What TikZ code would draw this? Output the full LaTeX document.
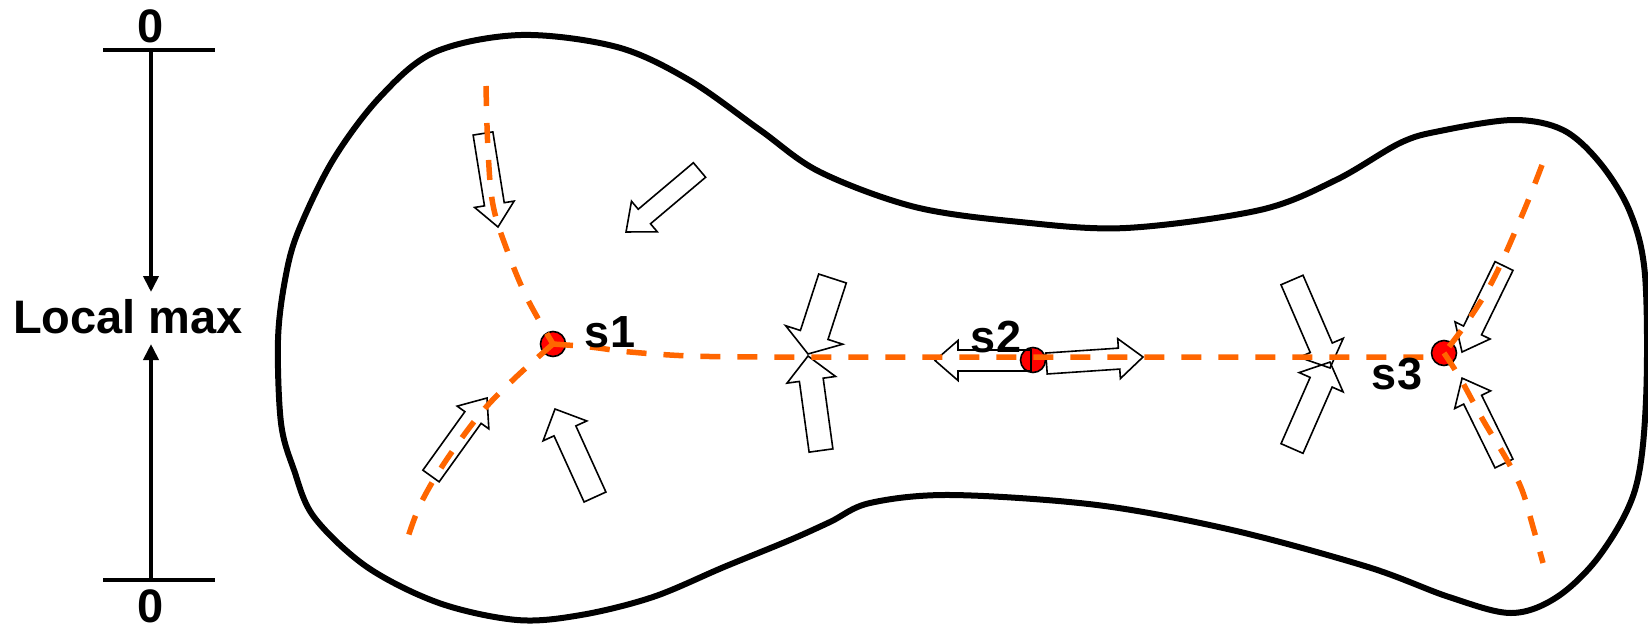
\documentclass[tikz,border=0pt]{standalone}
\usepackage{fontspec}
\setmainfont{Liberation Sans}
\usetikzlibrary{arrows.meta}
\definecolor{ridge}{HTML}{FF6600}
\definecolor{peak}{HTML}{FF0000}
% block arrow: tail (#1,#2), tip (#3,#4), shaft width #5, head width #6, head length #7
\newcommand\blockarrow[7]{%
  \pgfmathsetmacro\baAng{atan2(-(#4-#2),#3-#1)}%
  \pgfmathsetmacro\baLen{veclen(#3-#1,#4-#2)}%
  \begin{scope}[shift={(#1,#2)},rotate=\baAng]
    \draw[flowarrow] (0,-#5/2) -- (\baLen-#7,-#5/2) -- (\baLen-#7,-#6/2) -- (\baLen,0)
      -- (\baLen-#7,#6/2) -- (\baLen-#7,#5/2) -- (0,#5/2) -- cycle;
  \end{scope}}
\begin{document}
\begin{tikzpicture}[x=1pt,y=-1pt,
  outline/.style={line width=6pt,line join=round},
  ridgeline/.style={ridge,line width=5.5pt,dash pattern=on 20pt off 17pt},
  flowarrow/.style={draw=black,line width=1.6pt,line join=miter},
  peakdot/.style={circle,draw=black,line width=1.6pt,fill=peak,minimum size=25pt,inner sep=0pt},
  scalebar/.style={line width=3.8pt},
  scalearrow/.style={line width=3.8pt,-{Triangle[length=16pt,width=15pt]}},
  bigtext/.style={font=\fontsize{47}{50}\selectfont\bfseries,inner sep=0pt,anchor=base},
  stext/.style={font=\fontsize{45}{48}\selectfont\bfseries,inner sep=0pt,anchor=base}]
\useasboundingbox (0,0) rectangle (1648,629);

% scale on the left
\coordinate (topleft) at (103,50);
\coordinate (topright) at (215,50);
\coordinate (topmid) at (151,50);
\coordinate (botleft) at (103,580);
\coordinate (botright) at (215,580);
\coordinate (botmid) at (151,580);
\coordinate (lmtop) at (151,292);
\coordinate (lmbot) at (151,344);
\draw[scalebar] (topleft) -- (topright);
\draw[scalebar] (botleft) -- (botright);
\draw[scalearrow] (topmid) -- (lmtop);
\draw[scalearrow] (botmid) -- (lmbot);
\node[bigtext] (zerotop) at (151,42) {0};
\node[bigtext] (zerobot) at (151,622) {0};
\node[bigtext] (localmax) at (128,333) {Local max};

% region boundary
\draw[outline] plot[smooth cycle,tension=0.55] coordinates {
  (521,35) (617,47) (689,80) (760,130) (820,172) (915,207) (1020,222) (1126,228)
  (1260,210) (1336,180) (1400,143) (1440,131) (1513,120) (1563,130) (1600,163)
  (1630,212) (1645,275) (1646,400) (1635,490) (1600,555) (1557,597) (1511,613)
  (1449,597) (1368,567) (1232,530) (1097,505) (951,495) (870,503) (830,522)
  (790,540) (724,567) (653,597) (581,615) (517,620) (439,603) (367,567) (314,517)
  (294,470) (281,423) (278,340) (285,280) (298,232) (333,160) (380,97) (435,52)};

% critical points
\node[peakdot] (s1) at (553,344) {};
\node[peakdot] (s2) at (1033,360) {};
\node[peakdot] (s3) at (1444,353) {};

% gradient arrows
\blockarrow{483}{133.5}{498}{227}{20}{40}{23}
\blockarrow{699.5}{170}{626}{232}{19}{40}{24}
\blockarrow{431}{476}{487}{398}{20}{39}{24}
\blockarrow{595}{497}{555}{409}{24}{48}{24}
\blockarrow{832.5}{278.5}{808}{354}{29}{60}{20}
\blockarrow{821}{450.5}{808}{356}{24}{49}{24}
\blockarrow{1031}{360.5}{935}{360.5}{21}{40}{23}
\blockarrow{1046.5}{363.5}{1143}{357}{21}{40}{24}
\blockarrow{1292}{280}{1330}{368}{24}{48}{22}
\blockarrow{1292}{448.5}{1330}{362}{24}{48}{22}
\blockarrow{1504}{266}{1462}{352}{20}{39}{24}
\blockarrow{1504}{463.5}{1462}{378}{20}{40}{24}

% ridge lines
\draw[ridgeline] plot[smooth,tension=0.6] coordinates {
  (486,86) (488,150) (493,205) (507,250) (527,298) (s1.center)};
\draw[ridgeline] plot[smooth,tension=0.6] coordinates {
  (s1.center) (515,378) (481,413) (445,462) (421,503) (408,537)};
\draw[ridgeline] plot[smooth,tension=0.6] coordinates {
  (s1.center) (590,347) (630,352) (690,356) (760,357)} -- (1432,357);
\draw[ridgeline] plot[smooth,tension=0.6] coordinates {
  (1542,165) (1523,213) (1493,280) (1465,325) (s3.center)};
\draw[ridgeline] plot[smooth,tension=0.6] coordinates {
  (s3.center) (1460,378) (1483,420) (1507,460) (1522,490) (1533,527) (1543,563)};

% labels
\node[stext] (s1lab) at (610,347) {s1};
\node[stext] (s2lab) at (996,352) {s2};
\node[stext] (s3lab) at (1397,389) {s3};
\end{tikzpicture}
\end{document}
